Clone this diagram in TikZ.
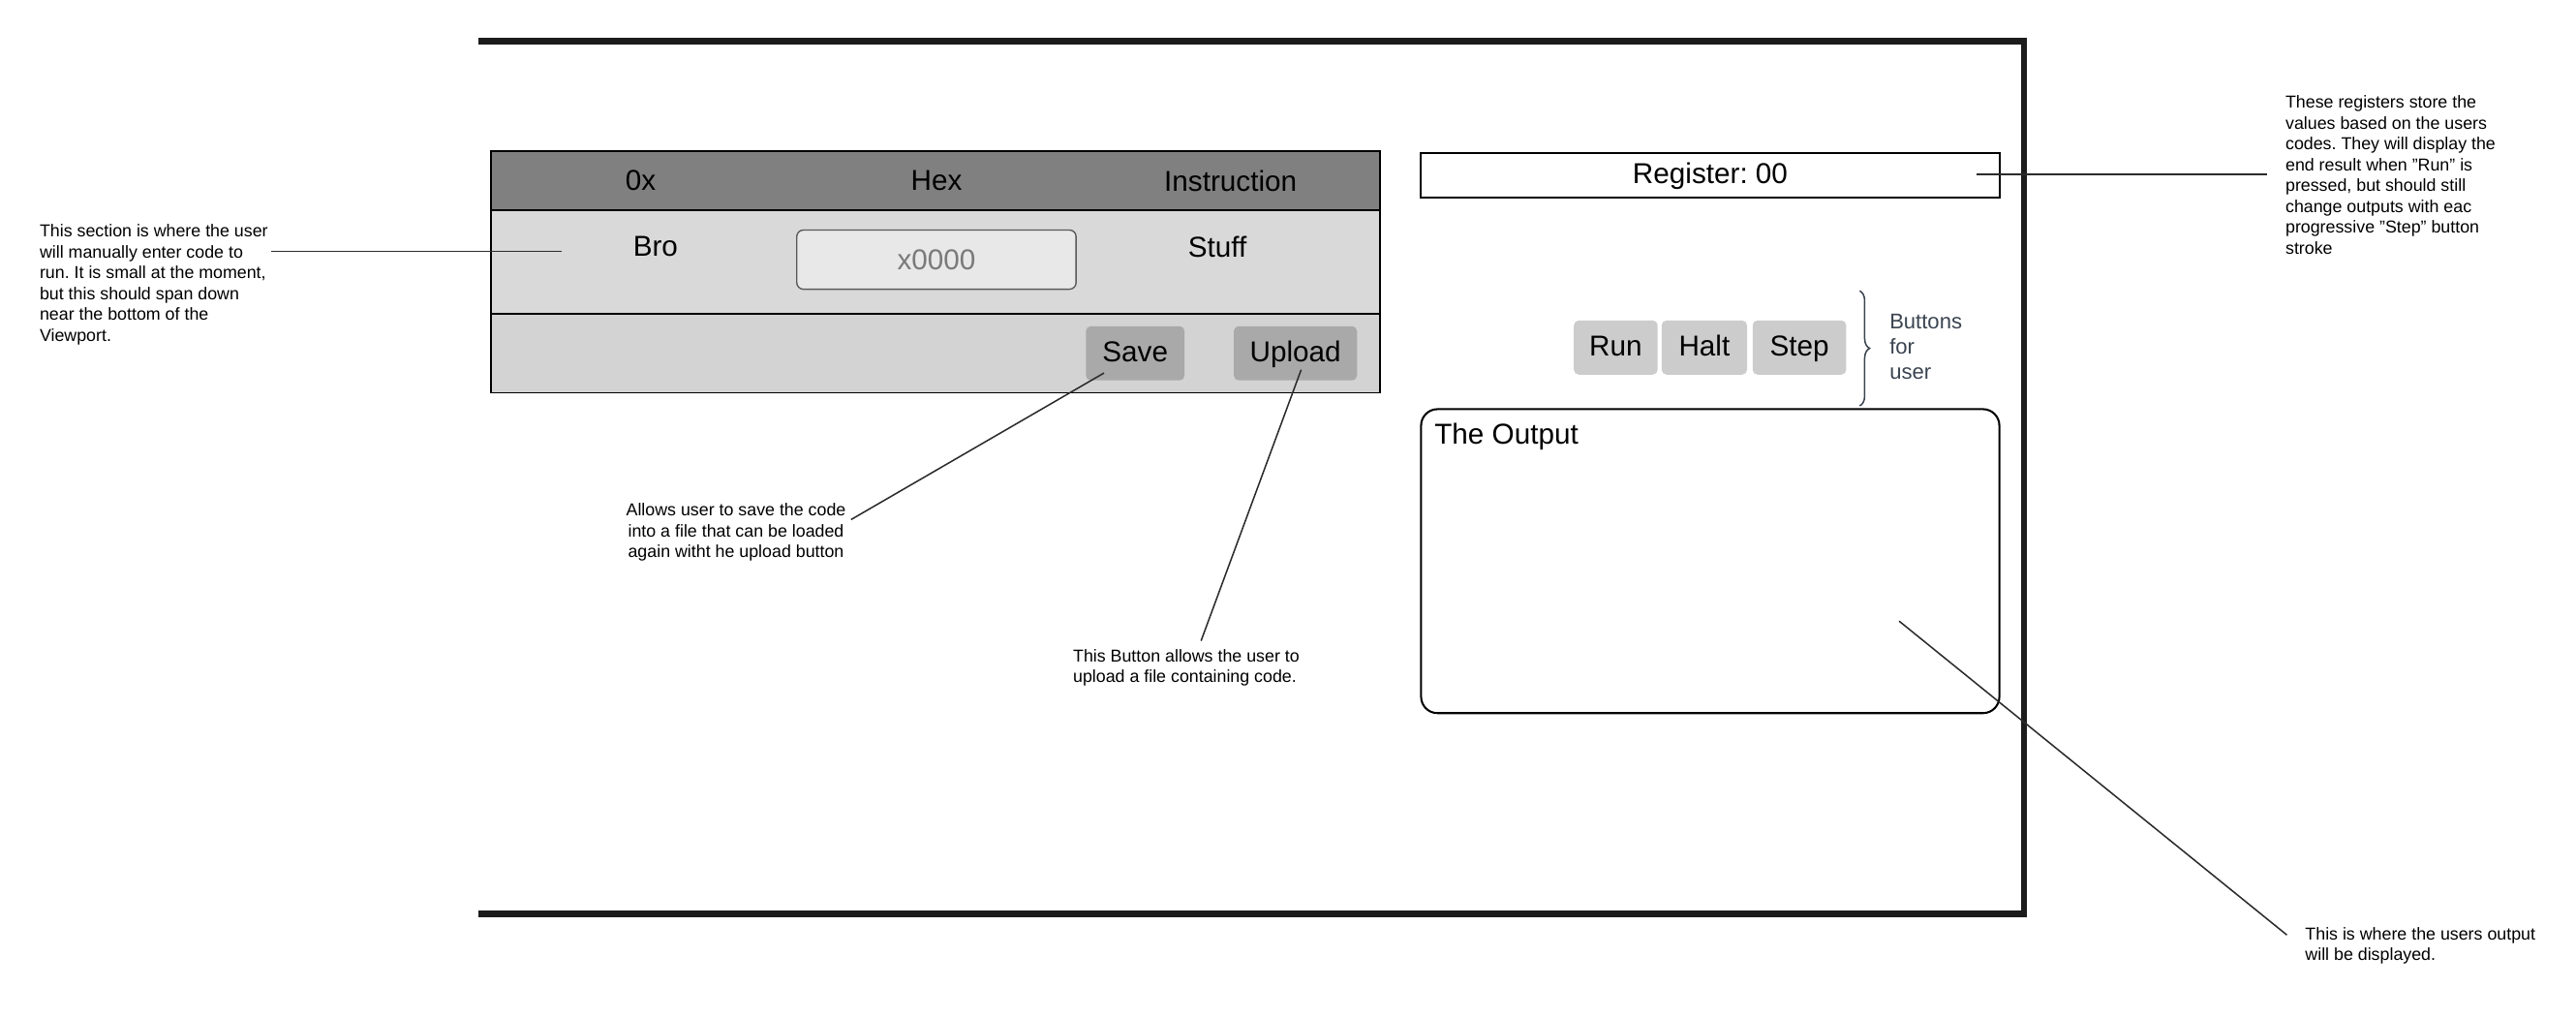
\documentclass[tikz,border=0pt]{standalone}
\usepackage{fontspec}
\setmainfont{Liberation Sans}
\usetikzlibrary{positioning,decorations.pathreplacing}
\frenchspacing

\definecolor{hdrgray}{HTML}{808080}
\definecolor{rowgray}{HTML}{D9D9D9}
\definecolor{footgray}{HTML}{D3D3D3}
\definecolor{filegray}{HTML}{A9A9A9}
\definecolor{ctrlgray}{HTML}{CCCCCC}
\definecolor{hexfill}{HTML}{E8E8E8}
\definecolor{hextext}{HTML}{7A7A7A}
\definecolor{framecol}{HTML}{1C1C1C}
\definecolor{pincol}{HTML}{2B2B2B}
\definecolor{bracecol}{HTML}{3A4450}

\newcommand{\qt}{\char34}

\tikzset{
  ui/.style={font=\fontsize{17.5}{21}\selectfont, inner sep=0},
  note/.style={font=\fontsize{10.5}{12.7}\selectfont, align=left, inner sep=0},
  row/.style={draw, line width=1pt, minimum width=541, inner sep=0, outer sep=0},
  filebtn/.style={ui, fill=filegray, rounded corners=3pt, minimum height=33, text height=14pt, text depth=3.5pt},
  ctrlbtn/.style={ui, fill=ctrlgray, rounded corners=3pt, minimum height=33, text height=14pt, text depth=3.5pt},
  pin/.style={draw=pincol, line width=0.9pt}
}

\begin{document}
\begin{tikzpicture}[x=1pt,y=-1pt]
  \useasboundingbox (0,0) rectangle (1568,619);
  \draw[framecol, line width=4pt] (291,25) -- (1232,25) -- (1232,556) -- (291,556);

  % code table
  \node[row, fill=hdrgray, minimum height=36] (hdr) at (569.5,110) {};
  \node[row, fill=rowgray, minimum height=63, below=0pt of hdr] (code) {};
  \node[row, fill=footgray, minimum height=48, below=0pt of code] (foot) {};
  \node[ui] (colx) at (390,110) {0x};
  \node[ui] (colhex) at (570,110) {Hex};
  \node[ui] (colins) at (749,110) {Instruction};
  \node[ui] (bro) at (399,150) {Bro};
  \node[ui, draw=black!65, fill=hexfill, text=hextext, line width=0.8pt, rounded corners=4pt,
        minimum width=170, minimum height=36] (hexbox) at (570,158) {x0000};
  \node[ui] (stuff) at (741,150) {Stuff};
  \node[filebtn, minimum width=60] (save) at (691,215) {Save};
  \node[filebtn, minimum width=75] (upload) at (788.5,215) {Upload};

  % right side
  \node[ui, draw, line width=1.2pt, minimum width=352, minimum height=27, text height=14pt, text depth=3.5pt]
    (reg) at (1041,106.5) {Register: 00};
  \node[ctrlbtn, minimum width=51] (run) at (983.5,211.5) {Run};
  \node[ctrlbtn, minimum width=52, right=2pt of run] (halt) {Halt};
  \node[ctrlbtn, minimum width=57, right=3pt of halt] (stepbtn) {Step};
  \coordinate (btop) at (1132,177);
  \coordinate (bbot) at (1132,247);
  \draw[bracecol, line width=0.9pt, decorate, decoration={brace, amplitude=6pt}] (btop) -- (bbot);
  \node[anchor=west, align=left, inner sep=0, text=bracecol, font=\fontsize{13}{15.5}\selectfont]
    (btnnote) at (1150,211) {Buttons\\for\\user};
  \node[draw, line width=1.2pt, rounded corners=10pt, minimum width=352, minimum height=185] (outbox) at (1041,341.5) {};
  \node[ui, anchor=west] (outtitle) at (873,266) {The Output};

  % notes
  \node[note, anchor=north west] (secnote) at (24,136.5)
    {This section is where the user\\will manually enter code to\\run. It is small at the moment,\\but this should span down\\near the bottom of the\\Viewport.};
  \node[note, anchor=north west] (regnote) at (1391,58)
    {These registers store the\\values based on the users\\codes. They will display the\\end result when \qt Run\qt\ is\\pressed, but should still\\change outputs with eac\\progressive \qt Step\qt\ button\\stroke};
  \node[note, align=center] (savenote) at (448,324)
    {Allows user to save the code\\into a file that can be loaded\\again witht he upload button};
  \node[note, anchor=north west] (upnote) at (653,395)
    {This Button allows the user to\\upload a file containing code.};
  \node[note, anchor=north west] (outnote) at (1403,564)
    {This is where the users output\\will be displayed.};

  \coordinate (secpin) at (342,153);
  \coordinate (regpin) at (1203,106);
  \coordinate (savepin) at (672,227);
  \coordinate (uppin) at (792,225);
  \coordinate (outpin) at (1156,378);
  \draw[pin] ([xshift=2pt]secnote.east |- secpin) -- (secpin);
  \draw[pin] (regpin) -- ([xshift=-11pt]regnote.west |- regpin);
  \draw[pin] (savepin) -- ([xshift=3pt,yshift=-10pt]savenote.north east);
  \draw[pin] (uppin) -- ([xshift=9pt,yshift=5pt]upnote.north);
  \draw[pin] (outpin) -- ([xshift=-11pt,yshift=-5pt]outnote.north west);
\end{tikzpicture}
\end{document}
